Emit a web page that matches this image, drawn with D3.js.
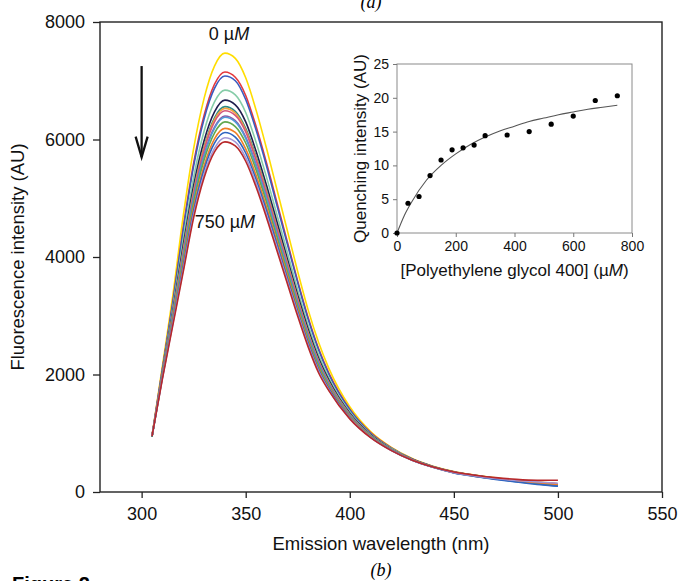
<!DOCTYPE html>
<html>
<head>
<meta charset="utf-8">
<script src="https://cdn.jsdelivr.net/npm/d3@7"></script>
<style>
  body { margin: 0; background: #fff; }
  svg { display: block; font-family: "Liberation Sans", Arial, sans-serif; }
</style>
</head>
<body>
<div id="container"></div>
<script>
// emission spectra, one array per PEG 400 concentration (uM)
const wavelengths = [305, 310, 315, 320, 325, 330, 335, 340, 345, 350, 355, 360, 365, 370, 375, 380, 385, 390, 400, 410, 420, 430, 440, 450, 460, 470, 480, 490, 500];

const spec000 = [950, 2150, 3350, 4700, 5850, 6700, 7250, 7470, 7380, 7050, 6500, 5850, 5150, 4450, 3750, 3100, 2550, 2100, 1450, 1030, 760, 570, 440, 350, 290, 240, 200, 170, 140];
const spec037 = [960, 2100, 3240, 4500, 5600, 6410, 6940, 7150, 7060, 6750, 6220, 5600, 4930, 4260, 3590, 2970, 2440, 2020, 1410, 1010, 750, 560, 430, 345, 285, 235, 195, 165, 140];
const spec075 = [940, 2090, 3220, 4460, 5550, 6350, 6870, 7080, 7000, 6680, 6160, 5550, 4880, 4220, 3560, 2940, 2420, 2000, 1400, 1000, 745, 560, 435, 345, 285, 235, 190, 155, 120];
const spec112 = [955, 2060, 3140, 4310, 5360, 6140, 6640, 6840, 6760, 6460, 5950, 5360, 4720, 4080, 3440, 2840, 2340, 1940, 1365, 985, 740, 555, 430, 340, 280, 230, 190, 160, 130];
const spec150 = [945, 2035, 3080, 4200, 5220, 5980, 6470, 6670, 6590, 6300, 5800, 5220, 4600, 3970, 3350, 2770, 2280, 1900, 1340, 975, 730, 555, 430, 340, 280, 230, 185, 150, 115];
const spec187 = [950, 2020, 3040, 4130, 5140, 5880, 6370, 6560, 6480, 6190, 5710, 5140, 4520, 3910, 3290, 2720, 2240, 1870, 1325, 965, 725, 550, 425, 335, 275, 225, 180, 140, 105];
const spec225 = [960, 2010, 3030, 4110, 5110, 5860, 6340, 6530, 6450, 6160, 5680, 5110, 4500, 3890, 3280, 2710, 2230, 1860, 1320, 965, 725, 550, 430, 340, 280, 230, 190, 160, 125];
const spec262 = [945, 2010, 3020, 4080, 5080, 5820, 6300, 6490, 6410, 6130, 5650, 5080, 4480, 3870, 3260, 2690, 2220, 1850, 1315, 960, 720, 550, 425, 335, 280, 230, 190, 165, 140];
const spec300 = [955, 2000, 2990, 4030, 5010, 5740, 6210, 6400, 6320, 6040, 5570, 5010, 4410, 3810, 3210, 2660, 2190, 1830, 1305, 955, 720, 545, 425, 335, 275, 225, 185, 150, 115];
const spec375 = [950, 1990, 2980, 4010, 5000, 5720, 6190, 6380, 6300, 6020, 5550, 5000, 4400, 3800, 3200, 2650, 2180, 1825, 1300, 955, 720, 545, 425, 330, 270, 220, 175, 135, 100];
const spec450 = [940, 1980, 2960, 3960, 4930, 5650, 6110, 6300, 6220, 5940, 5480, 4930, 4340, 3750, 3160, 2610, 2150, 1800, 1290, 950, 715, 545, 425, 330, 275, 225, 185, 150, 120];
const spec525 = [950, 1970, 2920, 3900, 4850, 5550, 6010, 6190, 6120, 5840, 5390, 4850, 4270, 3690, 3110, 2570, 2110, 1780, 1275, 940, 715, 545, 420, 330, 270, 225, 185, 155, 125];
const spec600 = [945, 1955, 2895, 3850, 4790, 5490, 5940, 6120, 6040, 5770, 5320, 4790, 4220, 3640, 3070, 2540, 2090, 1760, 1265, 935, 710, 540, 420, 325, 265, 215, 170, 130, 100];
const spec675 = [955, 1940, 2865, 3790, 4720, 5410, 5850, 6030, 5960, 5690, 5250, 4720, 4160, 3590, 3030, 2500, 2060, 1735, 1255, 930, 705, 540, 420, 330, 275, 230, 195, 170, 150];
const spec750 = [950, 1930, 2840, 3750, 4670, 5350, 5790, 5960, 5890, 5630, 5190, 4670, 4110, 3550, 2990, 2470, 2030, 1720, 1245, 925, 705, 540, 425, 340, 285, 245, 215, 200, 200];

const spectra = [spec000, spec037, spec075, spec112, spec150, spec187, spec225, spec262, spec300, spec375, spec450, spec525, spec600, spec675, spec750];
const lineColors = ["#FFDD00", "#E5383B", "#3B5BBF", "#86CCA8", "#1F1D4D", "#2E8C86", "#F4A340", "#D4577A",
  "#8C5AA8", "#4F9AD8", "#62A84E", "#F07E26", "#2F64C0", "#A397D6", "#B8282A"];

// inset: quenching vs concentration
const pegConc = [0, 37.5, 75, 112.5, 150, 187.5, 225, 262.5, 300, 375, 450, 525, 600, 675, 750];
const quenching = [0, 4.4, 5.4, 8.5, 10.8, 12.3, 12.6, 13.0, 14.4, 14.5, 15.0, 16.1, 17.3, 19.6, 20.3];
const fitConc = [0, 25, 50, 100, 150, 200, 250, 300, 350, 400, 450, 500, 550, 600, 650, 700, 750];
const fitValue = [0, 2.6, 4.6, 7.8, 10.0, 11.7, 13.1, 14.2, 15.1, 15.8, 16.5, 17.0, 17.5, 17.9, 18.3, 18.6, 18.9];

const xTicks = [300, 350, 400, 450, 500, 550];
const yTicks = [0, 2000, 4000, 6000, 8000];
const insetXTicks = [0, 200, 400, 600, 800];
const insetYTicks = [0, 5, 10, 15, 20, 25];

const w = 679;
const h = 581;

const svg = d3.
select("#container").
append("svg").
attr("width", w).
attr("height", h);

// main plot
const xScale = d3.scaleLinear().domain([280, 550]).range([100, 662]);
const yScale = d3.scaleLinear().domain([0, 8000]).range([492, 22]);

svg.
append("g").
attr("transform", `translate(0, ${yScale(0)})`).
call(d3.axisBottom(xScale).tickValues(xTicks).tickFormat(d3.format("d")).tickSize(6).tickSizeOuter(0).tickPadding(9)).
call(g => g.select(".domain").remove()).
call(g => g.selectAll("line").attr("stroke", "#222").attr("stroke-width", 1.3)).
call(g => g.selectAll("text").attr("font-size", 18).attr("fill", "#111").attr("font-family", null));

svg.
append("g").
attr("transform", `translate(${xScale(280)}, 0)`).
call(d3.axisLeft(yScale).tickValues(yTicks).tickFormat(d3.format("d")).tickSize(7).tickSizeOuter(0).tickPadding(8)).
call(g => g.select(".domain").remove()).
call(g => g.selectAll("line").attr("stroke", "#222").attr("stroke-width", 1.3)).
call(g => g.selectAll("text").attr("font-size", 18).attr("fill", "#111").attr("font-family", null));

svg.
append("rect").
attr("x", xScale(280)).
attr("y", yScale(8000)).
attr("width", xScale(550) - xScale(280)).
attr("height", yScale(0) - yScale(8000)).
attr("fill", "none").
attr("stroke", "#222").
attr("stroke-width", 1.4);

const line = d3.
line().
x((d, i) => xScale(wavelengths[i])).
y(d => yScale(d)).
curve(d3.curveMonotoneX);

svg.
selectAll(".spectrum").
data(spectra).
enter().
append("path").
attr("class", "spectrum").
attr("d", line).
attr("fill", "none").
attr("stroke", (d, i) => lineColors[i]).
attr("stroke-width", 1.6);

// concentration labels
const label0 = svg.
append("text").
attr("x", xScale(342)).
attr("y", yScale(7700)).
attr("text-anchor", "middle").
attr("font-size", 18).
attr("fill", "#111");
label0.append("tspan").text("0 µ");
label0.append("tspan").attr("font-style", "italic").text("M");

const label750 = svg.
append("text").
attr("x", xScale(340)).
attr("y", yScale(4500)).
attr("text-anchor", "middle").
attr("font-size", 18).
attr("fill", "#111");
label750.append("tspan").text("750 µ");
label750.append("tspan").attr("font-style", "italic").text("M");

// arrow
const ax = xScale(300);
svg.
append("line").
attr("x1", ax).
attr("x2", ax).
attr("y1", yScale(7250)).
attr("y2", yScale(5700)).
attr("stroke", "#111").
attr("stroke-width", 2.3);

svg.
append("path").
attr("d", `M${ax - 6},${yScale(6050)} L${ax},${yScale(5700)} L${ax + 6},${yScale(6050)}`).
attr("fill", "none").
attr("stroke", "#111").
attr("stroke-width", 2.3);

// axis titles
svg.
append("text").
attr("x", (xScale(280) + xScale(550)) / 2).
attr("y", 550).
attr("text-anchor", "middle").
attr("font-size", 18.5).
attr("fill", "#111").
text("Emission wavelength (nm)");

svg.
append("text").
attr("transform", `translate(24, ${(yScale(0) + yScale(8000)) / 2}) rotate(-90)`).
attr("text-anchor", "middle").
attr("font-size", 18.5).
attr("fill", "#111").
text("Fluorescence intensity (AU)");

// inset plot
const ixScale = d3.scaleLinear().domain([0, 800]).range([397, 632]);
const iyScale = d3.scaleLinear().domain([0, 25]).range([233, 64]);

svg.
append("rect").
attr("x", ixScale(0)).
attr("y", iyScale(25)).
attr("width", ixScale(800) - ixScale(0)).
attr("height", iyScale(0) - iyScale(25)).
attr("fill", "#fff").
attr("stroke", "#8a8a8a").
attr("stroke-width", 1);

svg.
append("g").
attr("transform", `translate(0, ${iyScale(0)})`).
call(d3.axisBottom(ixScale).tickValues(insetXTicks).tickSize(4).tickSizeOuter(0).tickPadding(4)).
call(g => g.select(".domain").remove()).
call(g => g.selectAll("line").attr("stroke", "#777")).
call(g => g.selectAll("text").attr("font-size", 14).attr("fill", "#111").attr("font-family", null));

svg.
append("g").
attr("transform", `translate(${ixScale(0)}, 0)`).
call(d3.axisLeft(iyScale).tickValues(insetYTicks).tickSize(4).tickSizeOuter(0).tickPadding(4)).
call(g => g.select(".domain").remove()).
call(g => g.selectAll("line").attr("stroke", "#777")).
call(g => g.selectAll("text").attr("font-size", 14).attr("fill", "#111").attr("font-family", null));

const fitLine = d3.
line().
x((d, i) => ixScale(fitConc[i])).
y(d => iyScale(d)).
curve(d3.curveMonotoneX);

svg.
append("path").
datum(fitValue).
attr("d", fitLine).
attr("fill", "none").
attr("stroke", "#555").
attr("stroke-width", 1.1);

svg.
selectAll(".dot").
data(quenching).
enter().
append("circle").
attr("class", "dot").
attr("cx", (d, i) => ixScale(pegConc[i])).
attr("cy", d => iyScale(d)).
attr("r", 2.6).
attr("fill", "#000");

const insetXTitle = svg.
append("text").
attr("x", (ixScale(0) + ixScale(800)) / 2).
attr("y", 276).
attr("text-anchor", "middle").
attr("font-size", 17).
attr("fill", "#111");
insetXTitle.append("tspan").text("[Polyethylene glycol 400] (µ");
insetXTitle.append("tspan").attr("font-style", "italic").text("M");
insetXTitle.append("tspan").text(")");

svg.
append("text").
attr("transform", `translate(366, ${(iyScale(0) + iyScale(25)) / 2}) rotate(-90)`).
attr("text-anchor", "middle").
attr("font-size", 17).
attr("fill", "#111").
text("Quenching intensity (AU)");

// panel captions
svg.
append("text").
attr("x", 371).
attr("y", 8).
attr("text-anchor", "middle").
attr("font-family", "Liberation Serif, serif").
attr("font-style", "italic").
attr("font-size", 18).
text("(a)");

svg.
append("text").
attr("x", 381).
attr("y", 576).
attr("text-anchor", "middle").
attr("font-family", "Liberation Serif, serif").
attr("font-style", "italic").
attr("font-size", 18).
text("(b)");

svg.
append("text").
attr("x", 12).
attr("y", 591).
attr("font-family", "Liberation Sans, Arial, sans-serif").
attr("font-weight", "bold").
attr("font-size", 20).
text("Figure 2");
</script>
</body>
</html>
